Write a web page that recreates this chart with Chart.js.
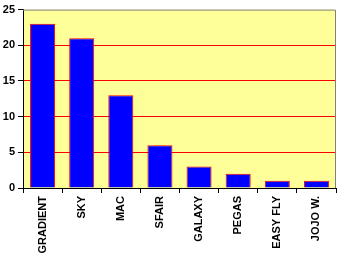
<!DOCTYPE html>
<html>
<head>
<meta charset="utf-8">
<script src="https://cdn.jsdelivr.net/npm/chart.js@4"></script>
<style>
  html, body { margin: 0; padding: 0; background: #ffffff; }
  #wrap { width: 340px; height: 260px; }
</style>
</head>
<body>
<div id="wrap"><canvas id="grafico" width="340" height="260"></canvas></div>
<script>
// Dados
const categorias = ['GRADIENT', 'SKY', 'MAC', 'SFAIR', 'GALAXY', 'PEGAS', 'EASY FLY', 'JOJO W.'];
const valores = [23, 21, 13, 6, 3, 2, 1, 1];
const passoY = 5;
const maxY = 25;

// Fundo amarelo da área do gráfico e bordas superior/direita cinza
const fundoPlot = {
    id: 'fundoPlot',
    beforeDraw(chart) {
        const { ctx, chartArea: a } = chart;
        ctx.save();
        ctx.fillStyle = '#ffff99';
        ctx.fillRect(a.left, a.top, a.right - a.left, a.bottom - a.top);
        ctx.restore();
    },
    afterDraw(chart) {
        const { ctx, chartArea: a } = chart;
        ctx.save();
        ctx.strokeStyle = '#808080';
        ctx.lineWidth = 1;
        ctx.beginPath();
        ctx.moveTo(a.left, a.top + 0.5);
        ctx.lineTo(a.right - 0.5, a.top + 0.5);
        ctx.lineTo(a.right - 0.5, a.bottom);
        ctx.stroke();
        ctx.restore();
    }
};

const fonte = { family: '"Liberation Sans", Arial, sans-serif', size: 11, weight: 'bold' };

new Chart(document.getElementById('grafico').getContext('2d'), {
    type: 'bar',
    data: {
        labels: categorias,
        datasets: [{
            data: valores,
            backgroundColor: '#0000ff',
            borderColor: '#ff0000',
            borderWidth: 1,
            barPercentage: 0.64,
            categoryPercentage: 1
        }]
    },
    options: {
        responsive: false,
        animation: false,
        layout: { padding: { top: 8, right: 4, left: 0, bottom: 0 } },
        plugins: {
            legend: { display: false },
            tooltip: { enabled: false }
        },
        scales: {
            x: {
                afterFit: (s) => { s.height = 72; },
                grid: {
                    offset: true,
                    drawOnChartArea: false,
                    tickColor: '#000000',
                    tickLength: 5
                },
                border: { color: '#000000', width: 1 },
                ticks: {
                    color: '#000000',
                    font: fonte,
                    minRotation: 90,
                    maxRotation: 90,
                    padding: 3,
                    autoSkip: false
                }
            },
            y: {
                min: 0,
                max: maxY,
                afterFit: (s) => { s.width = 23; },
                grid: {
                    color: (c) => (c.index > 0 && c.index < maxY / passoY) ? '#ff0000' : 'rgba(0,0,0,0)',
                    tickColor: '#000000',
                    tickLength: 5,
                    lineWidth: 1
                },
                border: { color: '#000000', width: 1 },
                ticks: {
                    stepSize: passoY,
                    color: '#000000',
                    font: fonte,
                    padding: 3
                }
            }
        }
    },
    plugins: [fundoPlot]
});
</script>
</body>
</html>
